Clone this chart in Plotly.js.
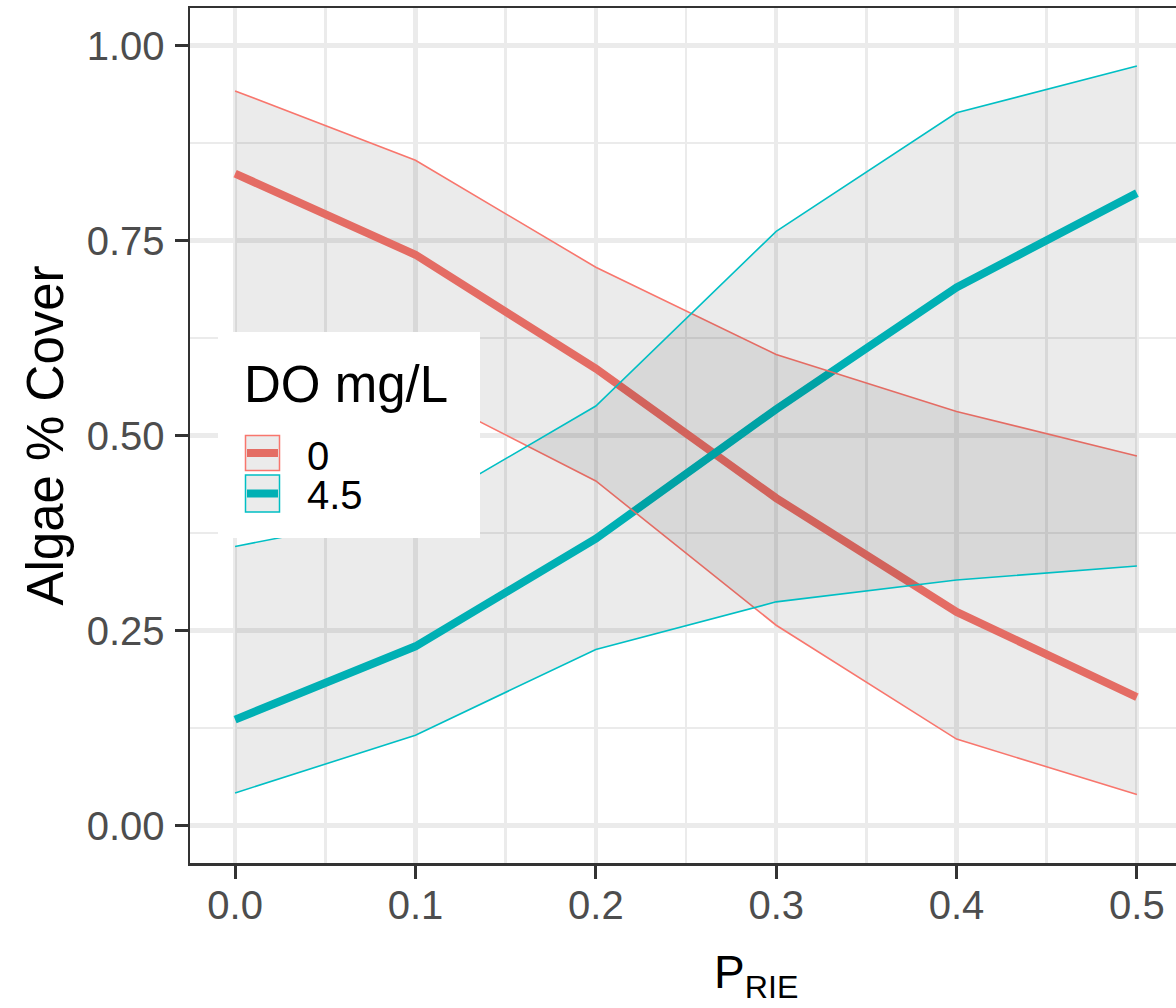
<!DOCTYPE html>
<html>
<head>
<meta charset="utf-8">
<script src="https://cdn.plot.ly/plotly-3.0.1.min.js"></script>
<style>
html,body{margin:0;padding:0;overflow:hidden;background:#fff;}
#chart{width:1182px;height:1008px;}
</style>
</head>
<body>
<div id="chart"></div>
<script>
// ---- data ----
const pRIE = [0, 0.1, 0.2, 0.3, 0.4, 0.5];
const doLevels = ['0', '4.5'];
const mean0  = [0.836, 0.732, 0.586, 0.420, 0.274, 0.165];
const lower0 = [0.620, 0.560, 0.442, 0.257, 0.111, 0.040];
const upper0 = [0.942, 0.853, 0.716, 0.604, 0.531, 0.474];
const mean45  = [0.136, 0.230, 0.368, 0.534, 0.690, 0.811];
const lower45 = [0.042, 0.116, 0.226, 0.287, 0.315, 0.333];
const upper45 = [0.358, 0.403, 0.538, 0.762, 0.914, 0.974];
const xTicks = [0, 0.1, 0.2, 0.3, 0.4, 0.5];
const xTickText = ['0.0', '0.1', '0.2', '0.3', '0.4', '0.5'];
const yTicks = [0, 0.25, 0.5, 0.75, 1];
const yTickText = ['0.00', '0.25', '0.50', '0.75', '1.00'];

const RED = '#F8766D', TEAL = '#00BFC4';
const RIBBON = 'rgba(0,0,0,0.08)';
const FONT = 'Liberation Sans, Arial, sans-serif';

const traces = [
  {x: pRIE, y: mean0, mode: 'lines', line: {color: RED, width: 8}, showlegend: false, hoverinfo: 'skip'},
  {x: pRIE, y: mean45, mode: 'lines', line: {color: TEAL, width: 8}, showlegend: false, hoverinfo: 'skip'},
  {x: pRIE, y: lower0, mode: 'lines', line: {color: RED, width: 1.6}, showlegend: false, hoverinfo: 'skip'},
  {x: pRIE, y: upper0, mode: 'lines', line: {color: RED, width: 1.6}, fill: 'tonexty', fillcolor: RIBBON, showlegend: false, hoverinfo: 'skip'},
  {x: pRIE, y: lower45, mode: 'lines', line: {color: TEAL, width: 1.6}, showlegend: false, hoverinfo: 'skip'},
  {x: pRIE, y: upper45, mode: 'lines', line: {color: TEAL, width: 1.6}, fill: 'tonexty', fillcolor: RIBBON, showlegend: false, hoverinfo: 'skip'}
];

// plot area in pixels: left 190, right 1182, top 8, bottom 863
const L = 190, R = 1182, T = 8, B = 863;
const px = v => (v - L) / (R - L);
const py = v => (B - v) / (B - T);

const shapes = [
  // legend background
  {type: 'rect', xref: 'paper', yref: 'paper', x0: px(218), x1: px(480), y0: py(538), y1: py(332),
   fillcolor: '#ffffff', line: {width: 0}, layer: 'above'},
  // key 1
  {type: 'rect', xref: 'paper', yref: 'paper', x0: px(245.5), x1: px(279.5), y0: py(470.5), y1: py(435.5),
   fillcolor: '#EBEBEB', line: {color: RED, width: 1.5}, layer: 'above'},
  {type: 'line', xref: 'paper', yref: 'paper', x0: px(247), x1: px(278), y0: py(453), y1: py(453),
   line: {color: '#E46D64', width: 8}, layer: 'above'},
  // key 2
  {type: 'rect', xref: 'paper', yref: 'paper', x0: px(245.5), x1: px(279.5), y0: py(512), y1: py(475),
   fillcolor: '#EBEBEB', line: {color: TEAL, width: 1.5}, layer: 'above'},
  {type: 'line', xref: 'paper', yref: 'paper', x0: px(247), x1: px(278), y0: py(493.5), y1: py(493.5),
   line: {color: '#00B0B4', width: 8}, layer: 'above'}
];

const annotations = [
  {xref: 'paper', yref: 'paper', x: px(242), y: py(384), xanchor: 'left', yanchor: 'middle', showarrow: false,
   text: 'DO mg/L', font: {family: FONT, size: 51, color: '#000'}},
  {xref: 'paper', yref: 'paper', x: px(305), y: py(456), xanchor: 'left', yanchor: 'middle', showarrow: false,
   height: 36, text: doLevels[0], font: {family: FONT, size: 40, color: '#000'}},
  {xref: 'paper', yref: 'paper', x: px(305), y: py(495), xanchor: 'left', yanchor: 'middle', showarrow: false,
   height: 36, text: doLevels[1], font: {family: FONT, size: 40, color: '#000'}},
  {xref: 'paper', yref: 'paper', x: px(712), y: py(975), xanchor: 'left', yanchor: 'middle', showarrow: false,
   text: 'P<sub>RIE</sub>', font: {family: FONT, size: 46, color: '#000'}}
];

const axisCommon = {
  showline: true, linecolor: '#333333', linewidth: 2.5, mirror: true,
  ticks: 'outside', ticklen: 13, tickwidth: 3, tickcolor: '#333333',
  showgrid: true, gridcolor: '#EBEBEB', gridwidth: 4.5,
  zeroline: false, tickfont: {family: FONT, size: 40, color: '#4D4D4D'}
};

const layout = {
  width: 1182, height: 1008,
  margin: {l: L, r: 0, t: T, b: 1008 - B, pad: 0},
  paper_bgcolor: '#ffffff', plot_bgcolor: '#ffffff',
  showlegend: false,
  xaxis: Object.assign({}, axisCommon, {
    range: [-0.025, 0.525], tickmode: 'array', tickvals: xTicks, ticktext: xTickText,
    minor: {dtick: 0.05, tick0: 0, showgrid: true, gridcolor: '#EBEBEB', gridwidth: 2.5},
    ticklabelstandoff: -8
  }),
  yaxis: Object.assign({}, axisCommon, {
    range: [-0.0478, 1.0483], tickmode: 'array', tickvals: yTicks, ticktext: yTickText,
    minor: {dtick: 0.125, tick0: 0, showgrid: true, gridcolor: '#EBEBEB', gridwidth: 2.5},
    ticklabelstandoff: 2,
    title: {text: 'Algae % Cover', font: {family: FONT, size: 51, color: '#000'}, standoff: 7}
  }),
  shapes: shapes,
  annotations: annotations
};

Plotly.newPlot('chart', traces, layout, {displayModeBar: false, staticPlot: true});
</script>
</body>
</html>
